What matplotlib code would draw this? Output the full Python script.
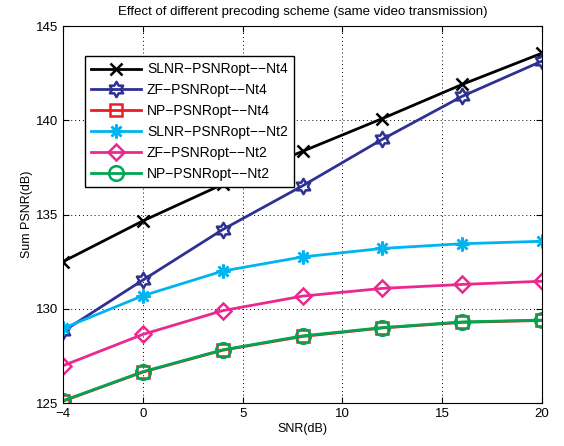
import matplotlib.pyplot as plt
import numpy as np
from matplotlib.path import Path

# SNR sample points and curves
snr = [-4, 0, 4, 8, 12, 16, 20]
slnr_nt4 = [132.5, 134.66, 136.6, 138.35, 140.09, 141.9, 143.56]
zf_nt4 = [128.8, 131.52, 134.2, 136.52, 138.99, 141.27, 143.14]
np_nt4 = [125.1, 126.64, 127.8, 128.53, 128.98, 129.28, 129.38]
slnr_nt2 = [128.96, 130.69, 132.0, 132.75, 133.2, 133.45, 133.58]
zf_nt2 = [126.98, 128.64, 129.9, 130.67, 131.08, 131.29, 131.46]
np_nt2 = [125.12, 126.66, 127.82, 128.56, 129.0, 129.3, 129.4]

labels = ['SLNR\u2212PSNRopt\u2212\u2212Nt4', 'ZF\u2212PSNRopt\u2212\u2212Nt4',
          'NP\u2212PSNRopt\u2212\u2212Nt4', 'SLNR\u2212PSNRopt\u2212\u2212Nt2',
          'ZF\u2212PSNRopt\u2212\u2212Nt2', 'NP\u2212PSNRopt\u2212\u2212Nt2']

plt.rcParams['font.family'] = ['Liberation Sans', 'DejaVu Sans']


def hexagram():
    # six-pointed star outline, like MATLAB's 'h' marker
    ang = np.pi / 2 + np.arange(12) * np.pi / 6
    r = np.where(np.arange(12) % 2 == 0, 1.0, 1 / np.sqrt(3))
    verts = np.column_stack([r * np.cos(ang), r * np.sin(ang)])
    verts = np.vstack([verts, verts[0]])
    codes = [Path.MOVETO] + [Path.LINETO] * 11 + [Path.CLOSEPOLY]
    return Path(verts, codes)


fig = plt.figure(figsize=(5.64, 4.46), dpi=100)
ax = fig.add_axes([0.1117, 0.0964, 0.8493, 0.8453])

series = [
    (slnr_nt4, 'black', 'x', 9),
    (zf_nt4, '#2e3192', hexagram(), 11),
    (np_nt4, '#ed1c24', 's', 9),
    (slnr_nt2, '#00b4f0', (8, 2, 0), 10),
    (zf_nt2, '#ec2890', 'D', 8.5),
    (np_nt2, '#00a651', 'o', 10.5),
]
for (ys, col, mk, ms), lab in zip(series, labels):
    ax.plot(snr, ys, color=col, marker=mk, markersize=ms, linewidth=2,
            markerfacecolor='none', markeredgecolor=col, markeredgewidth=1.8,
            label=lab)

ax.set_xlim(-4, 20)
ax.set_ylim(125, 145)
ax.set_xticks([-4, 0, 5, 10, 15, 20])
ax.set_yticks([125, 130, 135, 140, 145])
ax.tick_params(direction='in', top=True, right=True, labelsize=9.5, length=4)
ax.grid(True, linestyle=(0, (1, 3)), color='black', linewidth=0.7)
ax.set_xlabel('SNR(dB)', fontsize=9, labelpad=2)
ax.set_ylabel('Sum PSNR(dB)', fontsize=9, labelpad=2)
ax.set_title('Effect of different precoding scheme (same video transmission)',
             fontsize=9.5, pad=8)

leg = ax.legend(loc='upper left', bbox_to_anchor=(0.046, 0.92), fontsize=10,
                fancybox=False, edgecolor='black', framealpha=1,
                handlelength=3.6, labelspacing=0.5, borderpad=0.45,
                handletextpad=0.4, borderaxespad=0)
leg.get_frame().set_linewidth(1.0)

fig.savefig('out.png', dpi=100)
